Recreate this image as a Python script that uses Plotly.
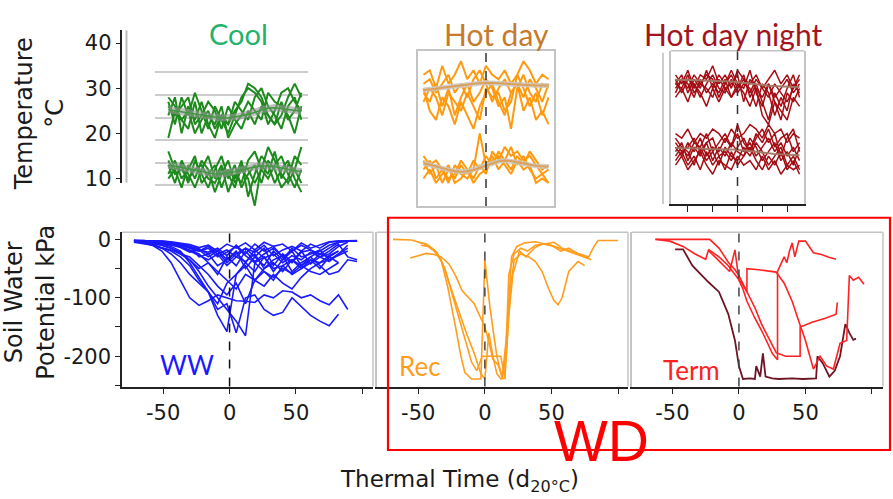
import plotly.graph_objects as go

W, H = 893, 499


def fx(p):
    return p / W


def fy(p):
    return 1 - p / H


# ---------------- data ----------------
# top row: temperature (°C) vs thermal time
cool_t = [-45, -40, -35, -30, -25, -20, -15, -10, -5, 0, 5, 10, 15, 20, 25, 30, 35, 40, 45, 50, 55]
cool_day = [
    [27, 22, 28, 24, 29, 25, 21, 26, 23, 20, 24, 28, 30, 29, 27, 22, 25, 29, 30, 27, 25],
    [24, 28, 20, 26, 23, 27, 22, 19, 24, 22, 27, 25, 23, 28, 30, 26, 24, 21, 26, 28, 23],
    [19, 25, 23, 21, 27, 20, 24, 22, 26, 19, 22, 24, 27, 25, 23, 29, 27, 26, 24, 20, 26],
    [26, 24, 26, 28, 22, 24, 27, 25, 21, 26, 23, 21, 25, 22, 26, 24, 22, 27, 23, 25, 29],
    [28, 26, 23, 25, 20, 23, 25, 21, 24, 22, 25, 27, 31, 30, 28, 24, 22, 24, 28, 31, 28],
]
cool_night = [
    [13, 9, 14, 11, 8, 12, 15, 10, 13, 7, 11, 9, 14, 16, 12, 10, 13, 15, 11, 8, 12],
    [11, 14, 10, 12, 15, 9, 11, 13, 8, 12, 10, 14, 6, 11, 15, 13, 9, 12, 14, 10, 7],
    [16, 12, 8, 13, 10, 14, 12, 7, 11, 14, 9, 12, 10, 4, 13, 11, 16, 10, 13, 12, 9],
    [10, 12, 13, 9, 14, 11, 8, 12, 15, 10, 13, 8, 11, 13, 9, 14, 12, 8, 10, 15, 13],
    [14, 11, 12, 10, 12, 13, 10, 9, 12, 11, 8, 13, 12, 9, 12, 17, 14, 11, 9, 12, 17],
]
cool_day_mean = [25.3, 25.0, 24.8, 24.5, 24.3, 24.1, 23.8, 23.6, 23.4, 23.4, 23.6, 23.9, 24.2, 24.7, 25.2,
                 25.6, 25.7, 25.5, 25.2, 25.0, 24.9]
cool_night_mean = [13.0, 12.7, 12.4, 12.1, 11.8, 11.5, 11.2, 11.0, 11.0, 11.2, 11.5, 11.9, 12.3, 12.6, 12.8,
                   12.8, 12.6, 12.3, 12.0, 11.7, 11.5]

hot_t = [-50, -45, -40, -35, -30, -25, -20, -15, -10, -5, 0, 5, 10, 15, 20, 25, 30, 35, 40, 45, 50]
hotday_day = [
    [33, 34, 30, 35, 31, 33, 36, 32, 34, 31, 35, 33, 32, 34, 31, 33, 36, 34, 31, 33, 32],
    [29, 27, 31, 26, 30, 24, 28, 31, 27, 29, 32, 30, 26, 28, 21, 30, 33, 29, 27, 31, 30],
    [30, 25, 23, 28, 26, 22, 27, 24, 21, 26, 29, 31, 27, 24, 29, 31, 25, 28, 23, 25, 22],
    [27, 30, 28, 24, 29, 27, 25, 29, 26, 23, 30, 28, 29, 25, 27, 33, 30, 26, 29, 24, 28],
    [31, 32, 29, 31, 33, 29, 31, 28, 32, 34, 31, 27, 30, 32, 29, 31, 28, 32, 30, 27, 31],
]
hotday_night = [
    [14, 11, 13, 9, 12, 10, 13, 11, 14, 12, 15, 13, 16, 14, 12, 15, 13, 16, 14, 12, 13],
    [12, 14, 10, 12, 9, 13, 11, 10, 12, 20, 13, 15, 12, 14, 17, 13, 15, 12, 10, 11, 9],
    [10, 12, 9, 11, 13, 9, 10, 12, 9, 11, 12, 14, 15, 13, 11, 14, 12, 13, 9, 10, 9],
    [15, 13, 14, 12, 10, 11, 14, 12, 10, 13, 11, 16, 14, 17, 15, 16, 14, 15, 13, 11, 12],
]
hotday_day_mean = [29.6, 29.7, 29.9, 30.1, 30.3, 30.5, 30.7, 30.9, 31.0, 31.1, 31.2, 31.2, 31.1, 31.0, 30.9,
                   30.8, 30.7, 30.7, 30.6, 30.6, 30.6]
hotday_night_mean = [13.4, 13.1, 12.7, 12.3, 11.9, 11.6, 11.5, 11.6, 11.9, 12.4, 12.9, 13.4, 13.8, 14.0, 13.9,
                     13.6, 13.3, 13.0, 12.8, 12.7, 12.6]

hdn_day = [
    [33, 31, 34, 30, 33, 32, 35, 31, 33, 30, 34, 32, 31, 33, 30, 32, 34, 31, 33, 30, 32],
    [31, 33, 29, 32, 30, 34, 30, 33, 31, 34, 31, 30, 34, 29, 26, 31, 28, 30, 32, 29, 31],
    [30, 32, 31, 28, 32, 29, 31, 29, 32, 28, 30, 33, 28, 31, 27, 23, 29, 26, 30, 33, 28],
    [32, 29, 32, 31, 28, 31, 33, 30, 29, 32, 29, 31, 30, 26, 31, 29, 24, 28, 25, 31, 29],
    [29, 32, 30, 33, 31, 30, 28, 32, 30, 31, 33, 27, 32, 30, 28, 31, 27, 23, 29, 27, 30],
    [31, 30, 33, 29, 31, 33, 32, 28, 31, 33, 30, 32, 29, 32, 30, 28, 31, 29, 27, 30, 33],
    [28, 30, 27, 31, 29, 26, 30, 27, 30, 28, 31, 29, 26, 30, 24, 22, 27, 25, 23, 28, 26],
]
hdn_night = [
    [17, 15, 18, 16, 19, 15, 17, 16, 19, 17, 20, 16, 18, 15, 17, 19, 16, 18, 15, 17, 14],
    [16, 18, 14, 17, 15, 18, 14, 17, 15, 18, 16, 15, 19, 17, 14, 16, 18, 14, 16, 13, 17],
    [15, 17, 16, 13, 17, 14, 16, 13, 17, 15, 14, 17, 15, 18, 16, 13, 15, 17, 13, 15, 12],
    [18, 16, 17, 19, 16, 18, 19, 15, 16, 14, 17, 19, 16, 20, 18, 21, 17, 19, 20, 16, 18],
    [14, 16, 13, 15, 12, 16, 13, 15, 12, 16, 13, 15, 17, 14, 12, 15, 13, 16, 12, 14, 11],
    [19, 17, 15, 18, 17, 20, 16, 18, 20, 17, 22, 18, 16, 19, 21, 18, 20, 15, 19, 21, 16],
    [13, 15, 12, 14, 16, 13, 11, 14, 13, 12, 15, 13, 14, 12, 15, 12, 14, 11, 13, 12, 13],
    [20, 19, 21, 18, 20, 19, 21, 20, 18, 21, 19, 20, 22, 21, 19, 22, 20, 21, 18, 20, 19],
]
hdn_day_mean = [31.9, 31.9, 31.8, 31.8, 31.8, 31.7, 31.7, 31.6, 31.6, 31.5, 31.4, 31.3, 31.1, 30.9, 30.7,
                30.6, 30.5, 30.4, 30.3, 30.3, 30.3]
hdn_night_mean = [16.8, 16.8, 16.7, 16.7, 16.7, 16.6, 16.6, 16.6, 16.5, 16.5, 16.4, 16.3, 16.2, 16.0, 15.8,
                  15.6, 15.5, 15.4, 15.3, 15.2, 15.2]

# bottom row: soil water potential (kPa) vs thermal time
ww_t = [-72, -65, -58, -51, -44, -37, -30, -23, -16, -9, -2, 5, 12, 19, 26, 33, 40, 47, 54, 61, 68, 75, 82, 89, 96]
ww_series = [
    [-2, -2, -3, -4, -6, -10, -15, -20, -12, -25, -18, -30, -15, -22, -10, -28, -18, -12, -20, -8, -15, -5, -3, -3, -3],
    [-3, -5, -8, -10, -15, -22, -35, -50, -40, -60, -30, -45, -20, -38, -25, -15, -30, -40, -22, -18, -30, -25, -12, -5, None],
    [-5, -8, -10, -15, -20, -30, -45, -70, -90, -110, -75, -60, -40, -55, -30, -50, -45, -35, -50, -40, -25, -30, -20, None, None],
    [-2, -3, -5, -8, -12, -20, -40, -65, -90, -130, -158, -60, -45, -70, -50, -40, -55, -35, -45, -30, -20, -10, -5, -3, -3],
    [-4, -6, -10, -14, -18, -25, -35, -55, -80, -100, -120, -140, -165, -40, -55, -70, -45, -60, -50, -35, -40, -28, -20, None, None],
    [None, -5, -10, -20, -40, -70, -100, -113, -105, -95, -100, -105, -106, -108, -95, -100, -88, -90, -100, -95, -105, -112, -95, -120, None],
    [None, None, -8, -15, -25, -40, -60, -75, -90, -120, -110, -160, -100, -95, -120, -130, -125, -100, -115, -130, -140, -148, -128, None, None],
    [-2, -2, -2, -3, -5, -8, -12, -30, -25, -45, -35, -20, -50, -30, -15, -45, -25, -38, -20, -42, -30, -20, -8, -30, -35],
    [-2, -3, -4, -6, -8, -12, -18, -25, -40, -55, -70, -85, -60, -70, -55, -65, -50, -58, -45, -55, -60, -50, -40, None, None],
    [-3, -4, -6, -10, -15, -25, -30, -45, -60, -80, -95, -75, -110, -70, -80, -60, -75, -85, -65, -50, -40, -35, -25, -10, None],
    [-2, -2, -4, -5, -8, -10, -14, -18, -22, -15, -28, -10, -25, -8, -20, -12, -30, -20, -10, -18, -25, -15, -5, -3, -3],
    [None, -3, -5, -7, -10, -12, -20, -28, -35, -25, -45, -30, -38, -25, -50, -35, -28, -55, -40, -30, -45, -60, -55, -35, -38],
    [-2, -2, -3, -3, -4, -6, -9, -14, -10, -20, -8, -15, -6, -18, -5, -12, -8, -20, -6, -15, -10, -4, -3, -2, -2],
    [None, None, -4, -6, -9, -14, -22, -18, -30, -20, -40, -25, -15, -30, -45, -20, -35, -15, -30, -25, -18, -35, -28, -20, None],
    [-3, -3, -4, -5, -7, -9, -12, -16, -25, -18, -35, -22, -40, -18, -32, -25, -40, -28, -35, -22, -30, -38, -25, -15, None],
    [None, -2, -3, -5, -6, -8, -12, -20, -15, -30, -22, -12, -28, -40, -30, -55, -35, -20, -45, -35, -50, -30, -40, None, None],
]

rec_x1 = [-69, -55, -45, -38, -33, -28, -22, -18, -15, -10, -3, 0, 4, 9, 13, 17, 20, 24, 30, 38, 45, 52, 58, 65, 72, 78, 82, 85, 100]
rec_y1 = [0, -1, -8, -20, -34, -80, -150, -200, -228, -239, -239, -35, -120, -200, -238, -150, -30, -12, -6, -4, -8, -5, -15, -20, -25, -30, -12, -2, -2]
rec_x2 = [-56, -50, -44, -38, -33, -27, -22, -17, -12, -8, -4, 0, 3, 6, 10, 13, 16, 19, 22, 27, 33, 38, 43, 48, 52, 55, 58, 63, 70, 75]
rec_y2 = [-32, -28, -24, -26, -30, -42, -62, -88, -100, -110, -130, -150, -175, -205, -215, -235, -200, -90, -35, -25, -30, -38, -55, -85, -105, -112, -100, -55, -38, -45]
rec_x3 = [-48, -42, -36, -30, -25, -20, -15, -10, -6, -2, 4, 8, 12, 15, 18, 22, 27, 32, 38, 45, 52, 60, 68, 75, 80]
rec_y3 = [-10, -12, -22, -50, -90, -130, -170, -210, -225, -200, -200, -200, -200, -238, -60, -25, -15, -20, -10, -8, -12, -18, -25, -30, -35]
rec_x4 = [-50, -44, -38, -32, -26, -20, -14, -8, -3, 0, 3, 6, 9, 12, 15, 18, 21, 26, 31, 37, 43, 50, 57, 63, 70, 77]
rec_y4 = [-5, -8, -18, -40, -80, -120, -160, -195, -230, -239, -160, -200, -230, -239, -238, -130, -60, -20, -30, -15, -8, -10, -20, -15, -25, -32]

term_x1 = [-63, -45, -30, -22, -15, -8, -3, 0, 5, 12, 17, 22, 28, 35, 46, 46, 55, 65, 73, 74]
term_y1 = [0, 0, 0, 0, -15, -39, -52, -62, -85, -117, -145, -167, -194, -200, -200, -150, -142, -135, -128, -108]
term_x2 = [-62, -52, -42, -33, -25, -23, -18, -12, -7, -3, 0, 3, 6, 12, 17, 22, 25, 29, 29, 31, 34, 36, 38, 40, 42, 45, 50, 56, 62, 67, 73]
term_y2 = [0, -3, -12, -25, -34, -19, -30, -44, -55, -18, -70, -85, -106, -135, -156, -180, -195, -206, -55, -45, -30, -40, -20, -6, -30, -3, -3, -23, -26, -30, -34]
term_x3 = [-23, -15, -8, -3, 2, 6, 6, 15, 28, 34, 40, 45, 50, 56, 61, 66, 71, 76, 81, 83, 86, 90, 94]
term_y3 = [-17, -30, -45, -60, -75, -90, -50, -52, -56, -75, -106, -140, -173, -222, -200, -217, -222, -178, -173, -62, -70, -65, -77]
term_dark_x = [-48, -42, -35, -28, -23, -15, -8, -3, 0, 3, 8, 12, 13, 16, 18, 20, 25, 30, 40, 48, 55, 58, 59, 63, 68, 72, 76, 80, 83, 86, 88]
term_dark_y = [-17, -17, -45, -62, -73, -90, -128, -173, -217, -239, -238, -239, -217, -235, -195, -235, -238, -239, -238, -239, -239, -238, -200, -212, -235, -225, -200, -145, -160, -172, -170]

temp_ticks = [10, 20, 30, 40]
swp_ticks = [0, -50, -100, -150, -200, -250]
swp_labels = ['0', '', '-100', '', '-200', '']
tt_ticks = [-50, 0, 50, 100]
tt_labels = ['-50', '0', '50', '']

# ---------------- figure ----------------
fig = go.Figure()


def add_line(x, y, color, width, xa, ya):
    fig.add_trace(go.Scatter(x=x, y=y, mode='lines', line=dict(color=color, width=width),
                             xaxis=xa, yaxis=ya, showlegend=False, hoverinfo='skip'))


GREEN = '#1e8a1e'
ORANGE = '#ff9a10'
DRED = '#a50d14'
BLUE = '#1a1aff'
REC = '#ff9d1c'
RED = '#ff2222'
MAROON = '#6e1424'

for s in cool_day + cool_night:
    add_line(cool_t, s, GREEN, 2, 'x', 'y')
for m in (cool_day_mean, cool_night_mean):
    add_line(cool_t, m, 'rgba(150,150,150,0.6)', 7, 'x', 'y')
    add_line(cool_t, m, '#3e9a3e', 1.5, 'x', 'y')

for s in hotday_day + hotday_night:
    add_line(hot_t, s, ORANGE, 2, 'x2', 'y2')
for m in (hotday_day_mean, hotday_night_mean):
    add_line(hot_t, m, 'rgba(200,200,200,0.85)', 5, 'x2', 'y2')
    add_line(hot_t, m, 'rgba(220,160,90,1)', 2, 'x2', 'y2')

for s in hdn_day + hdn_night:
    add_line(hot_t, s, DRED, 1.5, 'x3', 'y3')
for m in (hdn_day_mean, hdn_night_mean):
    add_line(hot_t, m, 'rgba(160,120,100,0.95)', 2, 'x3', 'y3')

for s in ww_series:
    add_line(ww_t, s, BLUE, 1.6, 'x4', 'y4')

for xs, ys in ((rec_x1, rec_y1), (rec_x2, rec_y2), (rec_x3, rec_y3), (rec_x4, rec_y4)):
    add_line(xs, ys, REC, 1.6, 'x5', 'y5')

add_line(term_dark_x, term_dark_y, MAROON, 1.8, 'x6', 'y6')
for xs, ys in ((term_x1, term_y1), (term_x2, term_y2), (term_x3, term_y3)):
    add_line(xs, ys, RED, 1.6, 'x6', 'y6')

# dummy trace so the temperature label axis is drawn
fig.add_trace(go.Scatter(x=[0.5], y=[25], mode='markers', marker=dict(size=1, opacity=0),
                         xaxis='x7', yaxis='y7', showlegend=False, hoverinfo='skip'))

TICKFONT = dict(family='DejaVu Sans', size=21, color='#1a1a1a')
GRAY = '#c4c4c4'
INK = '#222222'

plain = dict(showgrid=False, zeroline=False)

layout = dict(
    width=W, height=H, margin=dict(l=0, r=0, t=0, b=0),
    paper_bgcolor='white', plot_bgcolor='white', showlegend=False,
    # Cool
    xaxis=dict(domain=[fx(155), fx(308)], range=[-55, 60], visible=False, anchor='y'),
    yaxis=dict(domain=[fy(208.5), fy(58.5)], range=[3.6, 36], anchor='x', showgrid=True, tick0=3.5, dtick=5,
               gridcolor='#cccccc', gridwidth=2, showticklabels=False, ticks='', zeroline=False, showline=False),
    # Hot day
    xaxis2=dict(domain=[fx(418), fx(554)], range=[-54.4, 54.4], anchor='y2', showline=True, mirror=True,
                linecolor=GRAY, linewidth=1.5, showticklabels=False, ticks='', **plain),
    yaxis2=dict(domain=[fy(207), fy(48)], range=[3.9, 38.3], anchor='x2', showline=True, mirror=True,
                linecolor=GRAY, linewidth=1.5, showticklabels=False, ticks='', **plain),
    # Hot day night
    xaxis3=dict(domain=[fx(671), fx(804)], range=[-53.6, 53.6], anchor='y3', showline=True, linecolor=INK,
                linewidth=1.5, ticks='outside', tickvals=[-40, -20, 0, 20, 40], ticklen=6, tickcolor=INK,
                showticklabels=False, **plain),
    yaxis3=dict(domain=[fy(205), fy(48)], range=[4.4, 38.3], anchor='x3', showline=True, mirror=True,
                linecolor=GRAY, linewidth=1.5, showticklabels=False, ticks='', **plain),
    # WW
    xaxis4=dict(domain=[fx(122), fx(373)], range=[-81, 108], anchor='y4', showline=True, linecolor=INK,
                linewidth=1.5, ticks='outside', tickvals=tt_ticks, ticktext=tt_labels, ticklen=6,
                tickcolor=INK, tickfont=TICKFONT, **plain),
    yaxis4=dict(domain=[fy(392), fy(234)], range=[-252, 12], anchor='x4', showline=True, linecolor=INK,
                linewidth=1.5, ticks='outside', tickvals=swp_ticks, ticktext=swp_labels, ticklen=5,
                tickcolor=INK, tickfont=TICKFONT, **plain),
    # Rec
    xaxis5=dict(domain=[fx(377), fx(628)], range=[-81, 107.5], anchor='y5', showline=True, linecolor=INK,
                linewidth=1.5, ticks='outside', tickvals=tt_ticks, ticktext=tt_labels, ticklen=6,
                tickcolor=INK, tickfont=TICKFONT, **plain),
    yaxis5=dict(domain=[fy(392), fy(234)], range=[-252, 12], anchor='x5', showline=True, linecolor=GRAY,
                linewidth=1.5, showticklabels=False, ticks='', **plain),
    # Term
    xaxis6=dict(domain=[fx(632), fx(883)], range=[-80.4, 108.3], anchor='y6', showline=True, linecolor=INK,
                linewidth=1.5, ticks='outside', tickvals=tt_ticks, ticktext=tt_labels, ticklen=6,
                tickcolor=INK, tickfont=TICKFONT, **plain),
    yaxis6=dict(domain=[fy(392), fy(234)], range=[-252, 12], anchor='x6', showline=True, linecolor=GRAY,
                linewidth=1.5, showticklabels=False, ticks='', **plain),
    # temperature label axis
    xaxis7=dict(domain=[fx(100), fx(110)], range=[0, 1], visible=False, anchor='y7'),
    yaxis7=dict(domain=[fy(183), fy(27)], range=[9.1, 42.8], anchor='free', position=fx(120.5),
                showline=True, linecolor=INK, linewidth=1.5, ticks='outside', ticklen=4, tickcolor=INK,
                tickvals=temp_ticks, tickfont=TICKFONT, **plain),
)
fig.update_layout(**layout)

shapes = []


def vdash(xref, yref, color):
    shapes.append(dict(type='line', xref=xref, yref=yref + ' domain', x0=0, x1=0, y0=0, y1=1,
                       line=dict(color=color, width=1.5, dash='dash')))


def frame_tr(xref, yref):
    shapes.append(dict(type='line', xref=xref + ' domain', yref=yref + ' domain', x0=0, x1=1, y0=1, y1=1,
                       line=dict(color=GRAY, width=1.5)))
    shapes.append(dict(type='line', xref=xref + ' domain', yref=yref + ' domain', x0=1, x1=1, y0=0, y1=1,
                       line=dict(color=GRAY, width=1.5)))


vdash('x2', 'y2', '#333333')
vdash('x3', 'y3', '#333333')
shapes.append(dict(type='line', xref='x3 domain', yref='y3 domain', x0=0, x1=1, y0=1, y1=1,
                   line=dict(color=GRAY, width=1.5)))
shapes.append(dict(type='line', xref='paper', yref='paper', x0=fx(663), x1=fx(663), y0=fy(205), y1=fy(50),
                   line=dict(color='#bdbdbd', width=1.5)))
shapes.append(dict(type='line', xref='paper', yref='paper', x0=fx(126.5), x1=fx(126.5), y0=fy(183), y1=fy(27),
                   line=dict(color='#bdbdbd', width=2)))
vdash('x4', 'y4', '#111111')
frame_tr('x4', 'y4')
vdash('x5', 'y5', '#444444')
frame_tr('x5', 'y5')
vdash('x6', 'y6', '#444444')
frame_tr('x6', 'y6')
shapes.append(dict(type='rect', xref='paper', yref='paper', x0=fx(388), x1=fx(890), y0=fy(457), y1=fy(219),
                   line=dict(color='#ff0000', width=2.2), fillcolor='rgba(0,0,0,0)'))
fig.update_layout(shapes=shapes)


def note(text, x, y, size, color, family='Lato', angle=0):
    return dict(text=text, x=fx(x), y=fy(y), xref='paper', yref='paper', showarrow=False,
                xanchor='center', yanchor='middle', textangle=angle, align='center',
                font=dict(family=family, size=size, color=color))


fig.update_layout(annotations=[
    note('Cool', 238, 30, 29, '#1fb36c'),
    note('Hot day', 496, 31, 30, '#c67b2c'),
    note('Hot day night', 733, 31, 30, '#a3141d'),
    note('Temperature<br>°C', 39, 113, 24, '#1a1a1a', 'DejaVu Sans', -90),
    note('Soil Water<br>Potential kPa', 30, 306, 24, '#1a1a1a', 'DejaVu Sans', -90),
    note('Thermal Time (d<sub>20°C</sub>)', 459, 489, 23, '#1a1a1a', 'DejaVu Sans'),
    note('WW', 187, 370, 26, BLUE),
    note('Rec', 420, 371, 26, '#ff9d1c'),
    note('Term', 691, 375, 26, '#ff2020'),
    note('WD', 601.5, 448, 57, '#ff0000', 'Liberation Sans'),
])

fig.write_html('out.html')
